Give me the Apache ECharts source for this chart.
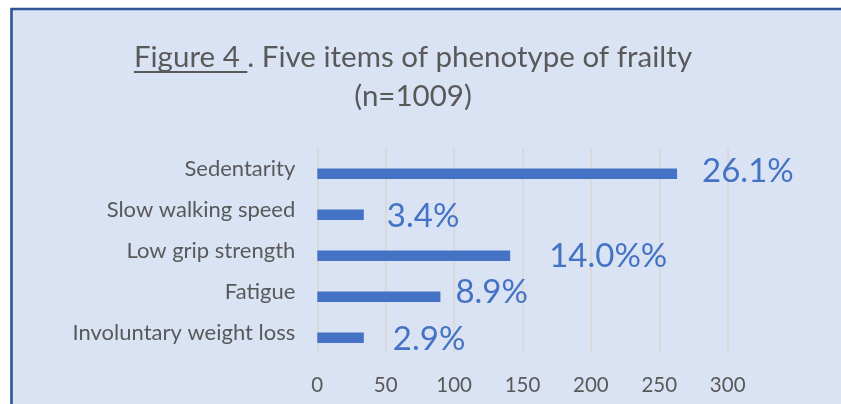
<!doctype html>
<html>
<head>
<meta charset="utf-8">
<title>Five items of phenotype of frailty</title>
<script src="https://cdn.jsdelivr.net/npm/echarts@6/dist/echarts.min.js"></script>
<style>
  html, body { margin: 0; padding: 0; background: #ffffff; }
  #chart { width: 841px; height: 404px; }
</style>
</head>
<body>
<div id="chart"></div>
<script>
// data
var categories = ['Sedentarity', 'Slow walking speed', 'Low grip strength', 'Fatigue', 'Involuntary weight loss'];
var counts = [263, 34, 141, 90, 34];
var pctLabels = ['26.1%', '3.4%', '14.0%%', '8.9%', '2.9%'];
var xTicks = [0, 50, 100, 150, 200, 250, 300];

// label nudges (style only): [dx from bar end, dy from bar centre]
var labelNudge = [[25, -2], [23, 2], [39, 1], [15, -4], [29, 2]];

var FONT = 'Lato';
var TEXT = '#595959';
var BLUE = '#4472c4';

var titleLine1 = 'Figure 4 . Five items of phenotype of frailty';
var titleUnder = 'Figure 4 ';
var titleLine2 = '(n=1009)';
var titleSize = 29.5;
var titleCx = 413;

// measure the underlined part so the line sits under the text we draw
var ctx = document.createElement('canvas').getContext('2d');
ctx.font = titleSize + 'px ' + FONT;
var fullW = ctx.measureText(titleLine1).width;
var underW = ctx.measureText(titleUnder).width;

var chart = echarts.init(document.getElementById('chart'), null, { renderer: 'canvas' });

var plotLeft = 317.3, plotW = 410.4, plotH = 205;

chart.setOption({
  backgroundColor: 'transparent',
  animation: false,
  graphic: [
    {
      type: 'rect', z: -10, silent: true,
      shape: { x: 11.5, y: 9, width: 900, height: 500 },
      style: { fill: '#dae3f3', stroke: '#2f5597', lineWidth: 2.6 }
    },
    {
      type: 'text', x: titleCx, y: 57,
      style: { text: titleLine1, font: titleSize + 'px ' + FONT, fill: TEXT, align: 'center', verticalAlign: 'middle' }
    },
    {
      type: 'rect',
      shape: { x: titleCx - fullW / 2, y: 71, width: underW, height: 2 },
      style: { fill: TEXT }
    },
    {
      type: 'text', x: titleCx, y: 96,
      style: { text: titleLine2, font: titleSize + 'px ' + FONT, fill: TEXT, align: 'center', verticalAlign: 'middle' }
    }
  ],
  grid: [
    { left: plotLeft, top: 148.3, width: plotW, height: plotH, containLabel: false },
    { left: plotLeft, top: 153.3, width: plotW, height: plotH, containLabel: false }
  ],
  xAxis: [
    {
      gridIndex: 0, type: 'value', min: xTicks[0], max: xTicks[xTicks.length - 1], interval: 50,
      axisLine: { show: false }, axisTick: { show: false },
      splitLine: { show: true, lineStyle: { color: '#d9d9d9', width: 2 } },
      axisLabel: { color: TEXT, fontFamily: FONT, fontSize: 20.5, margin: 22 }
    },
    {
      gridIndex: 1, type: 'value', min: xTicks[0], max: xTicks[xTicks.length - 1], show: false
    }
  ],
  yAxis: [
    {
      gridIndex: 0, type: 'category', data: categories, inverse: true,
      axisLine: { show: false }, axisTick: { show: false }, splitLine: { show: false },
      axisLabel: { color: TEXT, fontFamily: FONT, fontSize: 22, margin: 22 }
    },
    {
      gridIndex: 1, type: 'category', data: categories, inverse: true, show: false
    }
  ],
  series: [
    {
      type: 'bar', xAxisIndex: 1, yAxisIndex: 1,
      barWidth: 10.5,
      itemStyle: { color: BLUE },
      label: {
        show: true, position: 'right', distance: 0,
        color: BLUE, fontFamily: FONT, fontSize: 33
      },
      data: counts.map(function (v, i) {
        return {
          value: v,
          label: { formatter: pctLabels[i], offset: labelNudge[i] }
        };
      })
    }
  ]
});
</script>
</body>
</html>
